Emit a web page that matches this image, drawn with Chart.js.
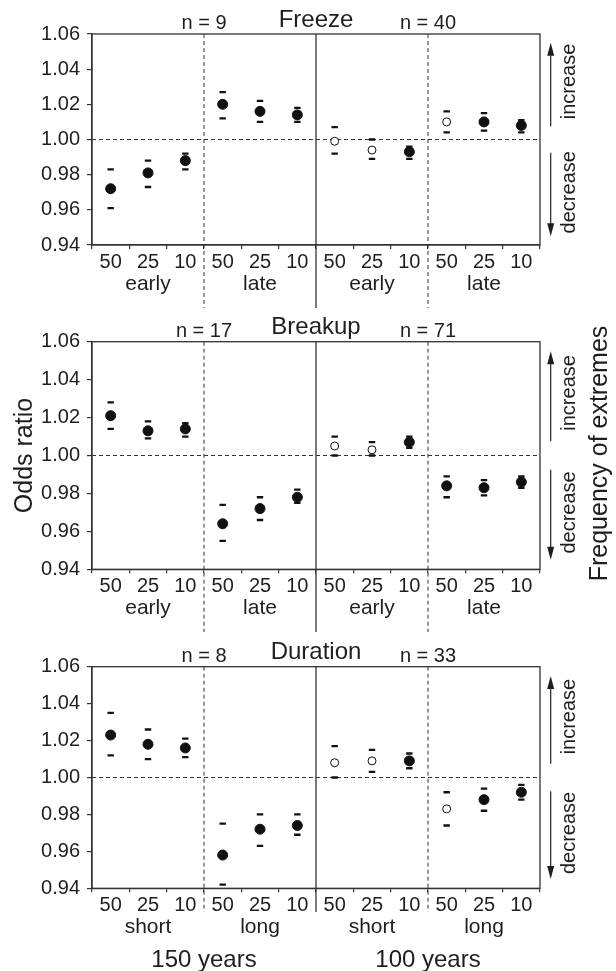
<!DOCTYPE html>
<html>
<head>
<meta charset="utf-8">
<script src="https://cdn.jsdelivr.net/npm/chart.js@4.4.1/dist/chart.umd.min.js"></script>
<style>
  body { margin: 0; background: #fff; }
  #wrap { position: relative; width: 616px; height: 971px; }
  canvas { position: absolute; left: 0; }
</style>
</head>
<body>
<div id="wrap">
  <canvas id="c1" width="616" height="315" style="top:0px"></canvas>
  <canvas id="c2" width="616" height="340" style="top:300px"></canvas>
  <canvas id="c3" width="616" height="351" style="top:620px"></canvas>
</div>
<script>
// categories: return period (50, 25, 10 years) x timing/length x record length
const xLabels = ["50", "25", "10", "50", "25", "10", "50", "25", "10", "50", "25", "10"];
const yTicks = [0.94, 0.96, 0.98, 1.00, 1.02, 1.04, 1.06];

const titles = ["Freeze", "Breakup", "Duration"];
const nLabels = [["n = 9", "n = 40"], ["n = 17", "n = 71"], ["n = 8", "n = 33"]];
const groupLabels = [
    ["early", "late", "early", "late"],
    ["early", "late", "early", "late"],
    ["short", "long", "short", "long"]
];
const periodLabels = ["150 years", "100 years"];

// odds ratios and confidence bounds
const freezeOR    = [0.972, 0.981, 0.988, 1.020, 1.016, 1.014, 0.999, 0.994, 0.993, 1.010, 1.010, 1.008];
const freezeUpper = [0.983, 0.988, 0.992, 1.027, 1.022, 1.018, 1.007, 1.000, 0.996, 1.016, 1.015, 1.011];
const freezeLower = [0.961, 0.973, 0.983, 1.012, 1.010, 1.010, 0.992, 0.989, 0.989, 1.004, 1.005, 1.004];
const freezeSig   = [1, 1, 1, 1, 1, 1, 0, 0, 1, 0, 1, 1];

const breakupOR    = [1.021, 1.013, 1.014, 0.964, 0.972, 0.978, 1.005, 1.003, 1.007, 0.984, 0.983, 0.986];
const breakupUpper = [1.028, 1.018, 1.017, 0.974, 0.978, 0.982, 1.010, 1.007, 1.010, 0.989, 0.987, 0.989];
const breakupLower = [1.014, 1.009, 1.010, 0.955, 0.966, 0.975, 1.000, 1.000, 1.004, 0.978, 0.979, 0.983];
const breakupSig   = [1, 1, 1, 1, 1, 1, 0, 0, 1, 1, 1, 1];

const durationOR    = [1.023, 1.018, 1.016, 0.958, 0.972, 0.974, 1.008, 1.009, 1.009, 0.983, 0.988, 0.992];
const durationUpper = [1.035, 1.026, 1.021, 0.975, 0.980, 0.980, 1.017, 1.015, 1.013, 0.992, 0.994, 0.996];
const durationLower = [1.012, 1.010, 1.011, 0.942, 0.963, 0.969, 1.000, 1.003, 1.005, 0.974, 0.982, 0.988];
const durationSig   = [1, 1, 1, 1, 1, 1, 0, 0, 1, 0, 1, 1];

const FONT = "'Liberation Sans', Arial, Helvetica, sans-serif";
const INK = "#1e1e1e";
Chart.defaults.font.family = FONT;
Chart.defaults.color = INK;

// decorations: box, reference lines, labels, arrows
const decorPlugin = {
    id: "decor",
    beforeDatasetsDraw(chart, args, opts) {
        const { ctx, chartArea: a, scales: { x, y } } = chart;
        const bx = [1, 2, 3].map(i => (x.getPixelForValue(3 * i - 1) + x.getPixelForValue(3 * i)) / 2);
        ctx.save();
        ctx.strokeStyle = "#333";
        ctx.lineWidth = 1;
        ctx.setLineDash([4, 3]);
        const y1 = y.getPixelForValue(1.0);
        ctx.beginPath();
        ctx.moveTo(a.left, y1);
        ctx.lineTo(a.right, y1);
        ctx.stroke();
        [bx[0], bx[2]].forEach(px => {
            ctx.beginPath();
            ctx.moveTo(px, a.top);
            ctx.lineTo(px, a.bottom + opts.ext);
            ctx.stroke();
        });
        ctx.setLineDash([]);
        ctx.lineWidth = 1.3;
        ctx.beginPath();
        ctx.moveTo(bx[1], a.top);
        ctx.lineTo(bx[1], a.bottom + opts.ext);
        ctx.stroke();
        ctx.strokeRect(a.left, a.top, a.right - a.left, a.bottom - a.top);
        ctx.restore();
    },
    afterDraw(chart, args, opts) {
        const { ctx, chartArea: a, scales: { x, y } } = chart;
        const k = opts.index;
        const bx = [1, 2, 3].map(i => (x.getPixelForValue(3 * i - 1) + x.getPixelForValue(3 * i)) / 2);
        ctx.save();
        ctx.fillStyle = INK;
        ctx.textAlign = "center";
        ctx.textBaseline = "alphabetic";

        ctx.font = "24px " + FONT;
        ctx.fillText(titles[k], bx[1], a.top - 7.5);
        ctx.font = "20px " + FONT;
        ctx.fillText(nLabels[k][0], bx[0], a.top - 5);
        ctx.fillText(nLabels[k][1], bx[2], a.top - 5);

        ctx.font = "21px " + FONT;
        groupLabels[k].forEach((g, i) => {
            ctx.fillText(g, x.getPixelForValue(3 * i + 1), a.bottom + 45);
        });

        if (k === 2) {
            ctx.font = "24px " + FONT;
            ctx.fillText(periodLabels[0], bx[0], a.bottom + 78.5);
            ctx.fillText(periodLabels[1], bx[2], a.bottom + 78.5);
        }

        // arrows on the right
        const ax = a.right + 10.7;
        ctx.strokeStyle = "#222";
        ctx.lineWidth = 1.2;
        const arrow = (from, to) => {
            const p0 = y.getPixelForValue(from), p1 = y.getPixelForValue(to);
            const dir = p1 < p0 ? 1 : -1;
            ctx.beginPath();
            ctx.moveTo(ax, p0);
            ctx.lineTo(ax, p1 + dir * 10);
            ctx.stroke();
            ctx.beginPath();
            ctx.moveTo(ax, p1);
            ctx.lineTo(ax - 3.5, p1 + dir * 13);
            ctx.lineTo(ax + 3.5, p1 + dir * 13);
            ctx.closePath();
            ctx.fill();
        };
        arrow(1.0075, 1.055);
        arrow(0.9925, 0.945);

        ctx.font = "20px " + FONT;
        const vtext = (txt, px, py) => {
            ctx.save();
            ctx.translate(px, py);
            ctx.rotate(-Math.PI / 2);
            ctx.fillText(txt, 0, 0);
            ctx.restore();
        };
        vtext("increase", a.right + 35, y.getPixelForValue(1.033));
        vtext("decrease", a.right + 35, y.getPixelForValue(0.970));

        if (k === 1) {
            ctx.font = "25px " + FONT;
            vtext("Odds ratio", 31.5, (a.top + a.bottom) / 2);
            vtext("Frequency of extremes", 607.3, (a.top + a.bottom) / 2 - 2);
        }
        ctx.restore();
    }
};

function makePanel(canvasId, index, est, upper, lower, sig, padTop, xAxisH, ext) {
    const filled = sig.map(s => s ? "#111" : "#fff");
    const radius = sig.map(s => s ? 5 : 4);
    return new Chart(document.getElementById(canvasId), {
        type: "line",
        data: {
            labels: xLabels,
            datasets: [
                {
                    data: est,
                    showLine: false,
                    pointStyle: "circle",
                    pointRadius: radius,
                    pointBackgroundColor: filled,
                    pointBorderColor: "#111",
                    pointBorderWidth: 1
                },
                {
                    data: upper,
                    showLine: false,
                    pointStyle: "line",
                    pointRadius: 3.2,
                    pointBorderColor: "#111",
                    pointBorderWidth: 2.3
                },
                {
                    data: lower,
                    showLine: false,
                    pointStyle: "line",
                    pointRadius: 3.2,
                    pointBorderColor: "#111",
                    pointBorderWidth: 2.3
                }
            ]
        },
        options: {
            responsive: false,
            animation: false,
            events: [],
            layout: { padding: { top: padTop, right: 76, left: 0, bottom: 0 } },
            plugins: {
                legend: { display: false },
                tooltip: { enabled: false },
                decor: { index: index, ext: ext }
            },
            scales: {
                x: {
                    type: "category",
                    offset: true,
                    grid: {
                        offset: true,
                        drawOnChartArea: false,
                        drawTicks: true,
                        tickLength: 4,
                        color: "#333",
                        lineWidth: 1.2
                    },
                    border: { display: true, color: "#333", width: 1.3 },
                    ticks: {
                        autoSkip: false,
                        maxRotation: 0,
                        padding: 1,
                        color: INK,
                        font: { size: 20 }
                    },
                    afterFit: s => { s.height = xAxisH; }
                },
                y: {
                    min: 0.94,
                    max: 1.06,
                    afterBuildTicks: s => { s.ticks = yTicks.map(v => ({ value: v })); },
                    grid: {
                        drawOnChartArea: false,
                        drawTicks: true,
                        tickLength: 5,
                        color: "#333",
                        lineWidth: 1.2
                    },
                    border: { display: true, color: "#333", width: 1.3 },
                    ticks: {
                        padding: 7,
                        color: INK,
                        font: { size: 20 },
                        callback: v => Number(v).toFixed(2)
                    },
                    afterFit: s => { s.width = 92; }
                }
            }
        },
        plugins: [decorPlugin]
    });
}

makePanel("c1", 0, freezeOR, freezeUpper, freezeLower, freezeSig, 34, 70, 63);
makePanel("c2", 1, breakupOR, breakupUpper, breakupLower, breakupSig, 41.7, 70.7, 62.7);
makePanel("c3", 2, durationOR, durationUpper, durationLower, durationSig, 46.7, 82.7, 23.7);
</script>
</body>
</html>
